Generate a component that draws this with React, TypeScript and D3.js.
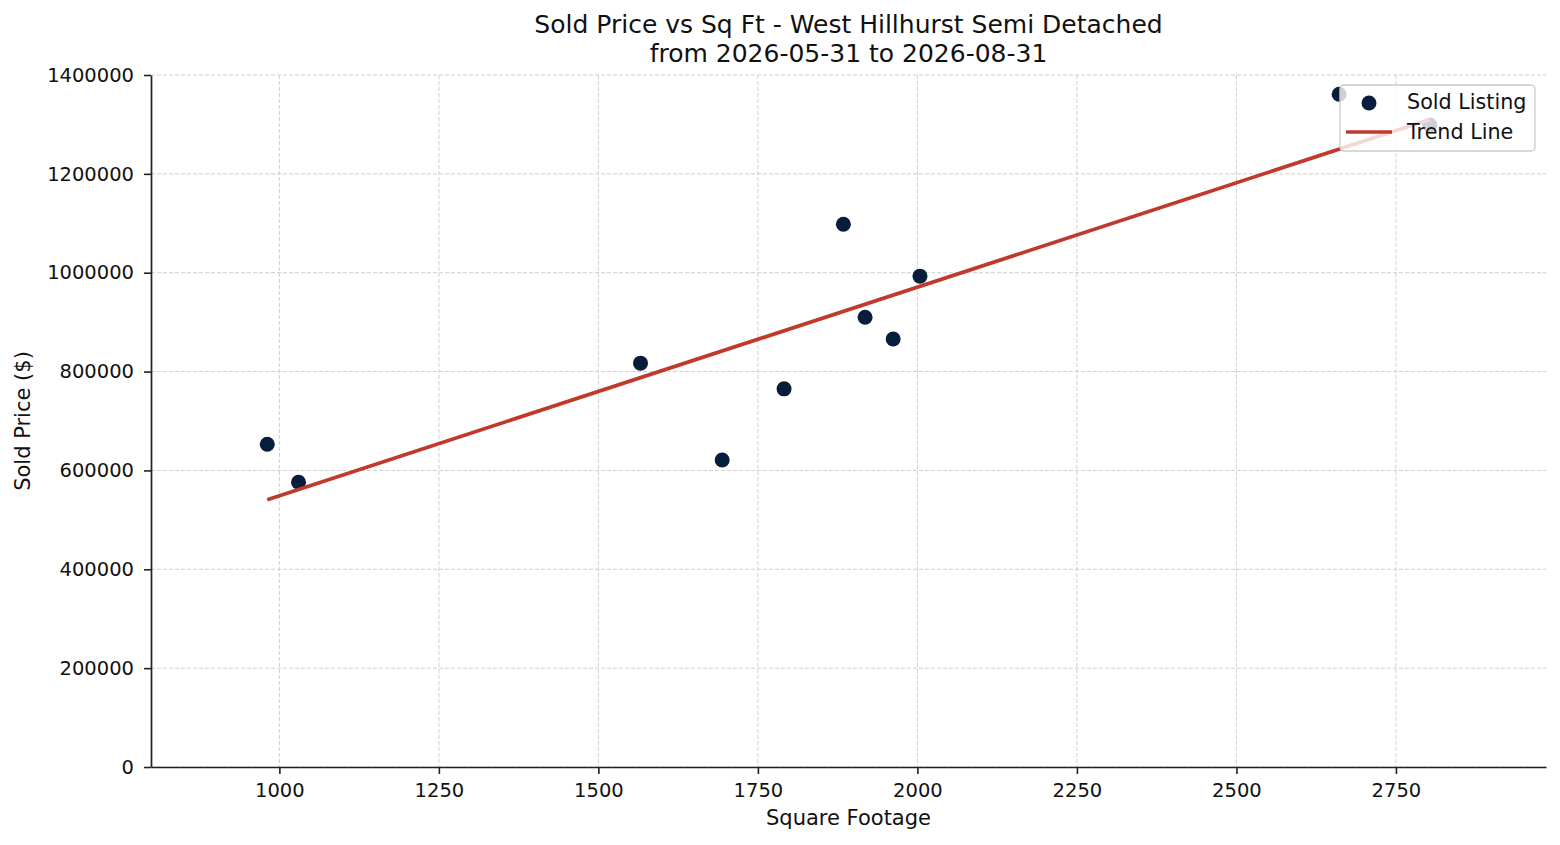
import { useEffect, useRef } from "react";
import * as d3 from "d3";

const SQFT = [981, 1030, 1566, 1694, 1791, 1884, 1918, 1962, 2004, 2661, 2803];
const PRICE = [653000, 576000, 817000, 621000, 765000, 1098000, 910000, 866000, 993000, 1361000, 1299000];
const Y_TICKS = [0, 200000, 400000, 600000, 800000, 1000000, 1200000, 1400000];
const X_TICKS = [1000, 1250, 1500, 1750, 2000, 2250, 2500, 2750];
const TITLE = ["Sold Price vs Sq Ft - West Hillhurst Semi Detached", "from 2026-05-31 to 2026-08-31"];

const W = 1560, H = 845;
const M = { left: 151, right: 14, top: 75, bottom: 78 };
const FONT = "DejaVu Sans, sans-serif";
const DOT = "#071d3b";
const TREND = "#c0392b";

export default function App() {
  const ref = useRef<SVGSVGElement>(null);

  useEffect(() => {
    document.body.style.margin = "0";
    if (!ref.current) return;
    const svg = d3.select(ref.current);
    svg.selectAll("*").remove();
    svg.attr("width", W).attr("height", H);
    svg.append("rect").attr("width", W).attr("height", H).attr("fill", "#fff");

    const pts = SQFT.map((x, i) => ({ x, y: PRICE[i] }));
    const [xmin, xmax] = d3.extent(SQFT) as [number, number];
    const pad = (xmax - xmin) * 0.1;
    const cw = W - M.left - M.right, ch = H - M.top - M.bottom;
    const x = d3.scaleLinear().domain([xmin - pad, xmax + pad]).range([0, cw]);
    const y = d3.scaleLinear().domain([0, 1400000]).range([ch, 0]);

    // least squares trend
    const mx = d3.mean(SQFT)!, my = d3.mean(PRICE)!;
    const slope = d3.sum(pts, p => (p.x - mx) * (p.y - my)) / d3.sum(pts, p => (p.x - mx) ** 2);
    const icpt = my - slope * mx;

    const g = svg.append("g").attr("transform", `translate(${M.left},${M.top})`);

    // grid
    g.append("g").selectAll("line").data(X_TICKS).join("line")
      .attr("x1", d => x(d)).attr("x2", d => x(d)).attr("y1", 0).attr("y2", ch)
      .attr("stroke", "#cfcfcf").attr("stroke-width", 1).attr("stroke-dasharray", "4,2");
    g.append("g").selectAll("line").data(Y_TICKS).join("line")
      .attr("x1", 0).attr("x2", cw).attr("y1", d => y(d)).attr("y2", d => y(d))
      .attr("stroke", "#cfcfcf").attr("stroke-width", 1).attr("stroke-dasharray", "4,2");

    // points
    g.append("g").selectAll("circle").data(pts).join("circle")
      .attr("cx", d => x(d.x)).attr("cy", d => y(d.y)).attr("r", 7.5)
      .attr("fill", DOT);

    // trend
    g.append("line")
      .attr("x1", x(xmin)).attr("y1", y(icpt + slope * xmin))
      .attr("x2", x(xmax)).attr("y2", y(icpt + slope * xmax))
      .attr("stroke", TREND).attr("stroke-width", 3.7);

    // axes
    const xa = g.append("g").attr("transform", `translate(0,${ch})`)
      .call(d3.axisBottom(x).tickValues(X_TICKS).tickSize(7).tickPadding(9).tickFormat(d3.format("d")).tickSizeOuter(0));
    const ya = g.append("g")
      .call(d3.axisLeft(y).tickValues(Y_TICKS).tickSize(7).tickPadding(10).tickFormat(d3.format("d")).tickSizeOuter(0));
    [xa, ya].forEach(a => {
      a.select(".domain").attr("stroke", "#222").attr("stroke-width", 1.7);
      a.selectAll(".tick line").attr("stroke", "#222").attr("stroke-width", 1.6);
      a.selectAll("text").attr("font-family", FONT).attr("font-size", "19.5px").attr("fill", "#111");
    });

    // labels
    svg.append("text").attr("x", M.left + cw / 2).attr("y", 825).attr("text-anchor", "middle")
      .attr("font-family", FONT).attr("font-size", "21px").attr("fill", "#111").text("Square Footage");
    svg.append("text").attr("transform", `translate(30,${M.top + ch / 2}) rotate(-90)`).attr("text-anchor", "middle")
      .attr("font-family", FONT).attr("font-size", "21px").attr("fill", "#111").text("Sold Price ($)");
    TITLE.forEach((t, i) => {
      svg.append("text").attr("x", M.left + cw / 2).attr("y", 33 + i * 29).attr("text-anchor", "middle")
        .attr("font-family", FONT).attr("font-size", "25px").attr("fill", "#111").text(t);
    });

    // legend
    const lg = svg.append("g").attr("transform", "translate(1340,85)");
    lg.append("rect").attr("width", 195).attr("height", 66).attr("rx", 4)
      .attr("fill", "#fff").attr("fill-opacity", 0.8).attr("stroke", "#cccccc").attr("stroke-width", 1.4);
    lg.append("circle").attr("cx", 29).attr("cy", 18).attr("r", 7.5).attr("fill", DOT);
    lg.append("line").attr("x1", 6).attr("x2", 52).attr("y1", 47).attr("y2", 47)
      .attr("stroke", TREND).attr("stroke-width", 3.7);
    ["Sold Listing", "Trend Line"].forEach((t, i) => {
      lg.append("text").attr("x", 67).attr("y", 24 + i * 30)
        .attr("font-family", FONT).attr("font-size", "20.7px").attr("fill", "#111").text(t);
    });
  }, []);

  return <svg ref={ref} style={{ display: "block" }} />;
}
